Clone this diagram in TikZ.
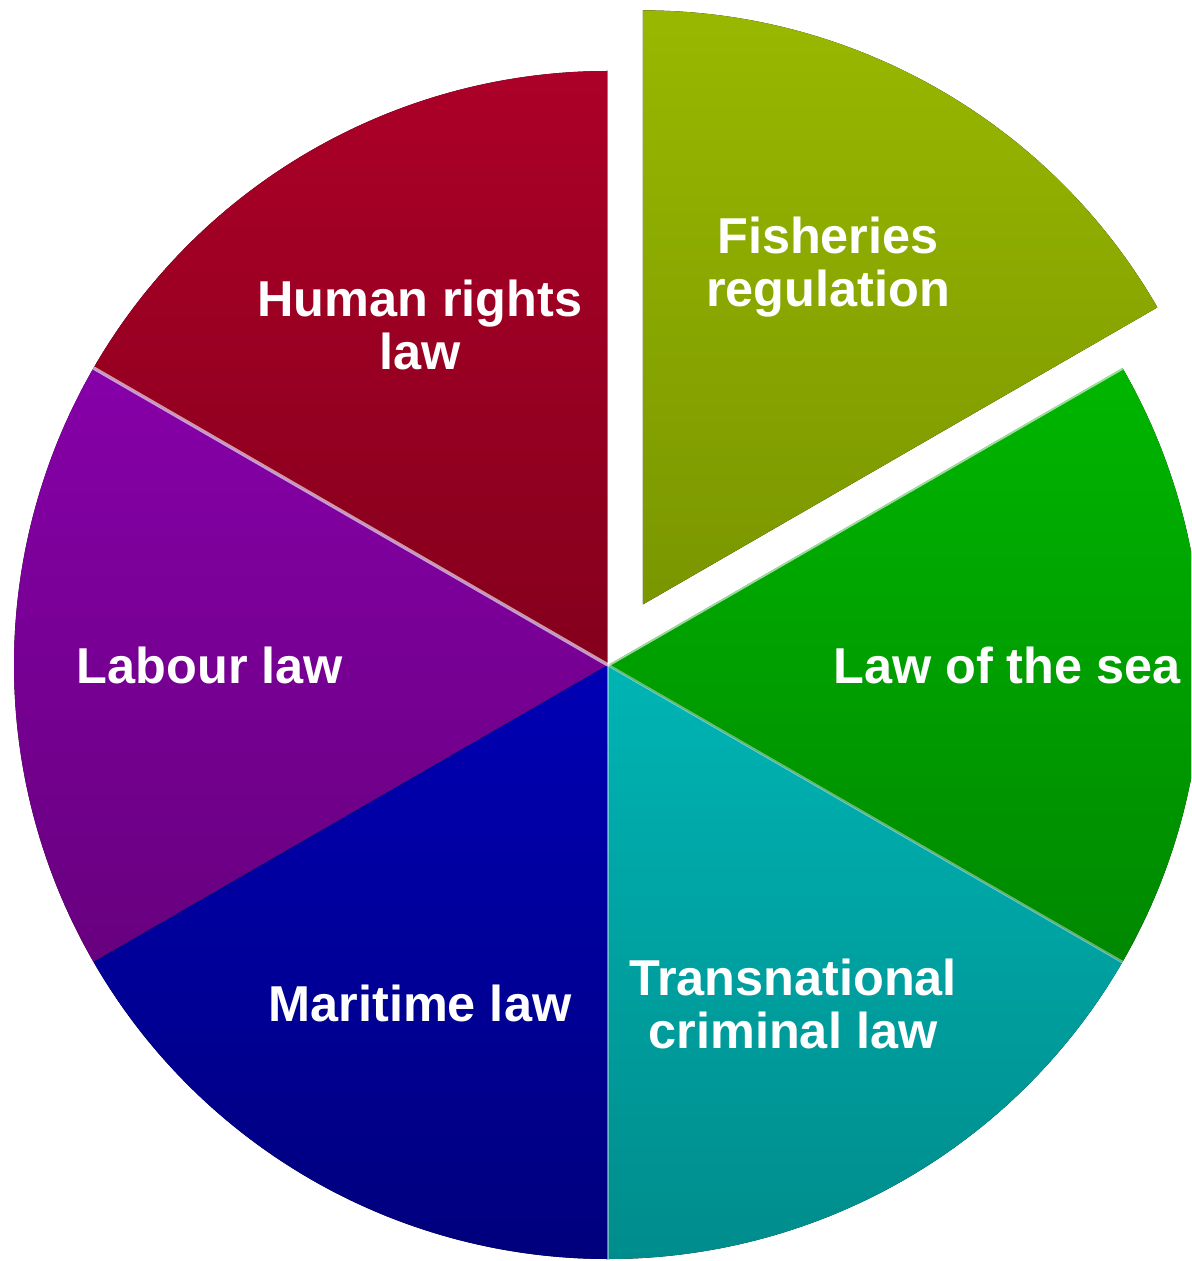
\documentclass[tikz,border=0pt]{standalone}
\usepackage{fontspec}
\setmainfont{Liberation Sans}
\tikzset{
  slicelabel/.style={text=white, font=\fontsize{28.7pt}{30.5pt}\selectfont\bfseries, align=center},
}
\begin{document}
\begin{tikzpicture}[x=0.02cm,y=0.02cm]
	\useasboundingbox (-608,-596) rectangle (583,665);
	\clip (-608,-596) rectangle (583,665);

	% slices of 60 degrees, radius 594
	\fill[top color={rgb,255:red,172;green,0;blue,40}, bottom color={rgb,255:red,132;green,0;blue,28}]
		(0,0) -- (90:594) arc (90:150:594) -- cycle;
	\fill[top color={rgb,255:red,134;green,0;blue,168}, bottom color={rgb,255:red,104;green,0;blue,127}]
		(0,0) -- (150:594) arc (150:210:594) -- cycle;
	\fill[top color={rgb,255:red,0;green,0;blue,180}, bottom color={rgb,255:red,0;green,0;blue,124}]
		(0,0) -- (210:594) arc (210:270:594) -- cycle;
	\fill[top color={rgb,255:red,0;green,180;blue,180}, bottom color={rgb,255:red,0;green,140;blue,140}]
		(0,0) -- (270:594) arc (270:330:594) -- cycle;
	\fill[top color={rgb,255:red,0;green,182;blue,0}, bottom color={rgb,255:red,0;green,136;blue,0}]
		(0,0) -- (330:594) arc (330:390:594) -- cycle;
	% exploded slice
	\fill[top color={rgb,255:red,152;green,184;blue,0}, bottom color={rgb,255:red,122;green,150;blue,0}]
		(60:70) -- ++(30:594) arc (30:90:594) -- cycle;

	% light edges between slices
	\draw[white, opacity=0.6, line width=2] (0,0) -- (150:594);
	\draw[white, opacity=0.6, line width=2] (0,0) -- (30:594);
	\draw[white, opacity=0.4, line width=1.5] (0,0) -- (330:594);
	\draw[white, opacity=0.4, line width=1.5] (0,0) -- (270:594);
	\draw[white, opacity=0.4, line width=1.5] (0,0) -- (90:594);

	\node[slicelabel] (fisheries) at (220,398) {Fisheries\\regulation};
	\node[slicelabel] (humanrights) at (-188,340) {Human rights\\law};
	\node[slicelabel] (labour) at (-398,0) {Labour law};
	\node[slicelabel] (lawofsea) at (399,0) {Law of the sea};
	\node[slicelabel] (transnational) at (185,-339) {Transnational\\criminal law};
	\node[slicelabel] (maritime) at (-188,-338) {Maritime law};
\end{tikzpicture}
\end{document}
